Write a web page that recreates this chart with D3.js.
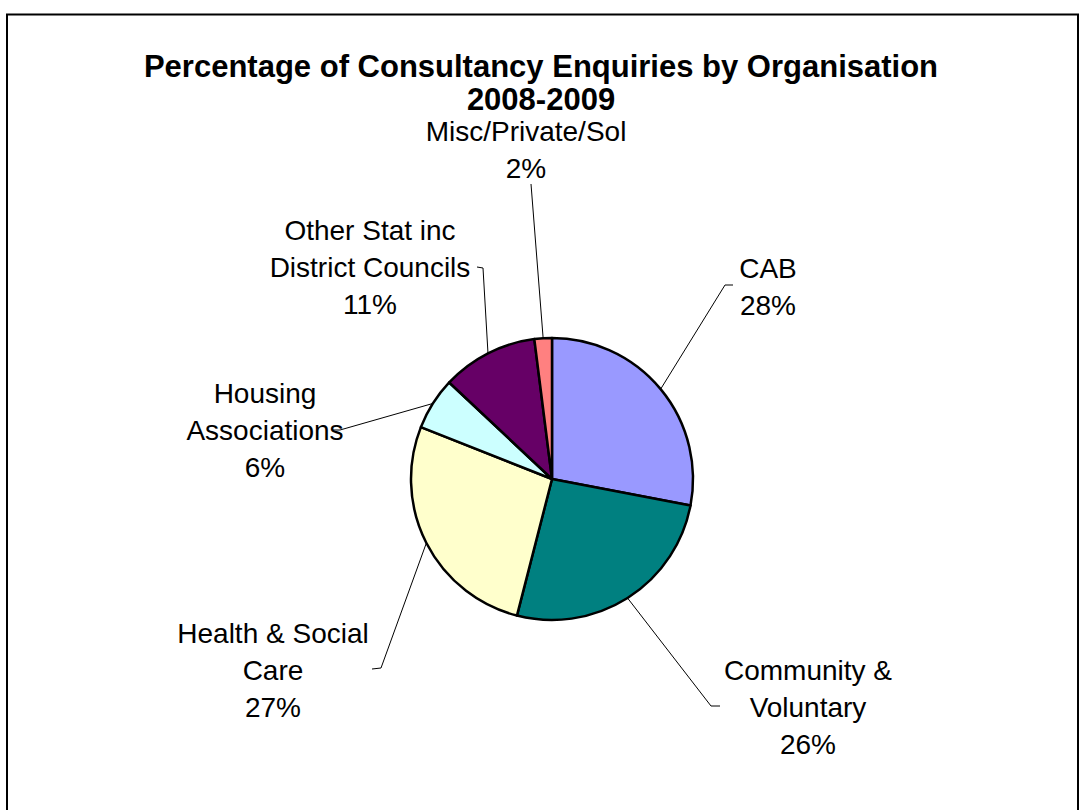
<!DOCTYPE html>
<html><head><meta charset="utf-8">
<script src="https://cdn.jsdelivr.net/npm/d3@7"></script>
<style>body{margin:0;background:#fff}svg{display:block}text{font-family:Arial,"Liberation Sans",sans-serif;fill:#000}</style>
</head><body>
<script>
const categories = ["CAB","Community & Voluntary","Health & Social Care","Housing Associations","Other Stat inc District Councils","Misc/Private/Sol"];
const values = [28, 26, 27, 6, 11, 2];
const colors = ["#9999FF","#008080","#FFFFCC","#CCFFFF","#660066","#FF8080"];
const labelLines = [["CAB","28%"],["Community &","Voluntary","26%"],["Health & Social","Care","27%"],["Housing","Associations","6%"],["Other Stat inc","District Councils","11%"],["Misc/Private/Sol","2%"]];
const titleLines = ["Percentage of Consultancy Enquiries by Organisation","2008-2009"];

const W=1083,H=810;
const svg=d3.select("body").append("svg").attr("width",W).attr("height",H);
svg.append("rect").attr("x",7).attr("y",14.5).attr("width",1071).attr("height",830)
  .attr("fill","#fff").attr("stroke","#000").attr("stroke-width",2);

titleLines.forEach((t,i)=>svg.append("text").attr("text-anchor","middle")
  .style("font-weight","bold").style("font-size","31px")
  .attr("x",541).attr("y",77+i*33).text(t));

const cx=552,cy=479,r=141;
const pie=d3.pie().sort(null).value(d=>d)(values);
const arc=d3.arc().innerRadius(0).outerRadius(r);
const g=svg.append("g").attr("transform",`translate(${cx},${cy})`);
g.selectAll("path").data(pie).join("path").attr("d",arc)
  .attr("fill",(d,i)=>colors[i]).attr("stroke","#000").attr("stroke-width",2.5).attr("stroke-linejoin","round");

// label placement (center x, first baseline) and leader line elbow points
const labelPos=[[768,278],[808,680],[273,643],[265,403],[370,240],[526,141]];
const leaderEnd=[[[725,285],[733,285]],[[711,706],[720,706]],[[381,668],[372,669]],[[340,430],[332,430]],[[483,268],[477,267]],[[531,184]]];
const lh=37;
const lbl=svg.append("g").style("font-size","28px");
labelLines.forEach((lines,i)=>{
  lines.forEach((s,j)=>lbl.append("text").attr("text-anchor","middle")
    .attr("x",labelPos[i][0]).attr("y",labelPos[i][1]+j*lh).text(s));
});
// leader lines from arc edge
const line=d3.line();
pie.forEach((d,i)=>{
  const a=(d.startAngle+d.endAngle)/2;
  const p0=[cx+Math.sin(a)*r, cy-Math.cos(a)*r];
  svg.append("path").attr("d",line([p0,...leaderEnd[i]])).attr("fill","none").attr("stroke","#000").attr("stroke-width",1);
});
</script>
</body></html>
